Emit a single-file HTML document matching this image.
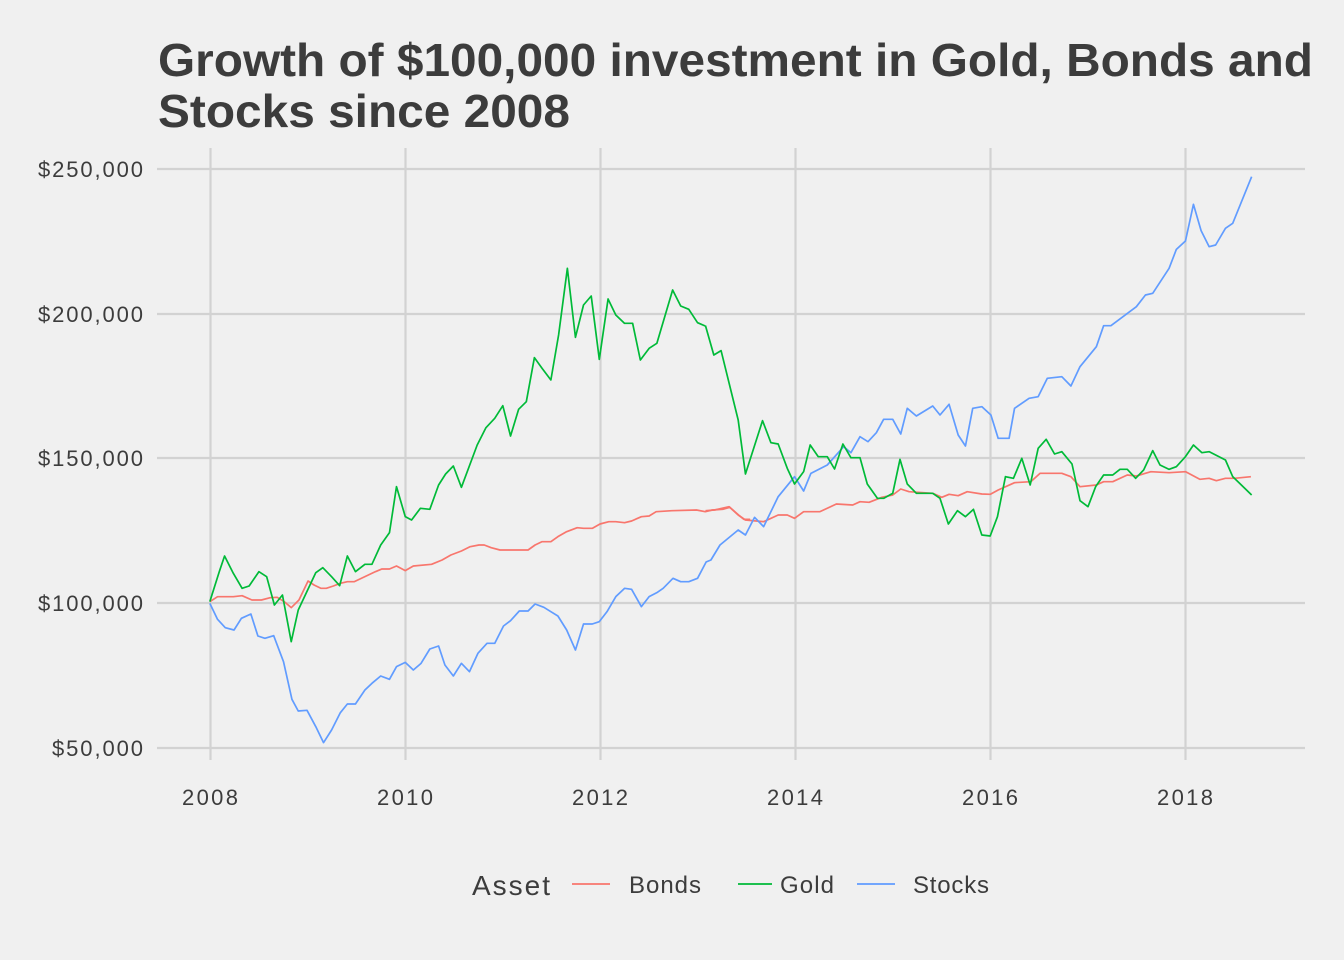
<!DOCTYPE html>
<html><head><meta charset="utf-8"><style>
html,body{margin:0;padding:0;background:#F0F0F0;}
svg{display:block;font-family:"Liberation Sans",sans-serif;}
</style></head><body>
<svg width="1344" height="960" viewBox="0 0 1344 960" xmlns="http://www.w3.org/2000/svg">
<rect width="1344" height="960" fill="#F0F0F0"/>
<text x="158" y="76" font-size="46" font-weight="bold" fill="#3C3C3C" textLength="1155" lengthAdjust="spacingAndGlyphs">Growth of $100,000 investment in Gold, Bonds and</text>
<text x="158" y="127" font-size="46" font-weight="bold" fill="#3C3C3C" textLength="412" lengthAdjust="spacingAndGlyphs">Stocks since 2008</text>
<g stroke="#D2D2D2" stroke-width="2.2">
<line x1="157" x2="1305" y1="169" y2="169"/><line x1="157" x2="1305" y1="314" y2="314"/>
<line x1="157" x2="1305" y1="458" y2="458"/><line x1="157" x2="1305" y1="603" y2="603"/>
<line x1="157" x2="1305" y1="748" y2="748"/>
<line x1="210.5" x2="210.5" y1="148" y2="760"/><line x1="405.5" x2="405.5" y1="148" y2="760"/>
<line x1="600.5" x2="600.5" y1="148" y2="760"/><line x1="795.5" x2="795.5" y1="148" y2="760"/>
<line x1="990.5" x2="990.5" y1="148" y2="760"/><line x1="1185.5" x2="1185.5" y1="148" y2="760"/>
</g>
<g font-size="22" fill="#3C3C3C" lengthAdjust="spacingAndGlyphs">
<text x="38" y="177" textLength="105">$250,000</text><text x="38" y="322" textLength="105">$200,000</text>
<text x="38" y="466" textLength="105">$150,000</text><text x="38" y="611" textLength="105">$100,000</text>
<text x="52" y="756" textLength="91">$50,000</text>
</g>
<g font-size="22" fill="#3C3C3C">
<text x="182" y="805" textLength="56">2008</text><text x="377" y="805" textLength="56">2010</text><text x="572" y="805" textLength="56">2012</text>
<text x="767" y="805" textLength="56">2014</text><text x="962" y="805" textLength="56">2016</text><text x="1157" y="805" textLength="56">2018</text>
</g>
<g fill="none" stroke-width="1.7" stroke-linejoin="round">
<g transform="translate(200,250) scale(0.350877,0.333333)">
<polyline vector-effect="non-scaling-stroke" stroke="#F8766D" points="28,1055 50,1040 95,1040 120,1037 148,1050 175,1050 200,1043 220,1042 240,1055 260,1073 282,1050 308,993 325,1005 345,1015 360,1015 380,1008 400,1000 420,995 440,995 470,980 500,965 518,957 540,957 560,948 585,962 608,948 660,943 690,930 715,915 745,903 770,890 795,885 810,885 830,893 855,900 935,900 955,885 975,875 1000,875 1020,860 1045,845 1075,833 1093,835 1118,835 1140,822 1165,815 1185,815 1210,818 1230,813 1258,800 1280,798 1300,785 1345,782 1415,780 1440,785 1460,780 1490,778 1510,772 1535,795 1550,808 1568,808"/>
<polyline vector-effect="non-scaling-stroke" stroke="#619CFF" points="28,1060 50,1108 72,1133 97,1140 118,1105 145,1092 165,1158 185,1165 210,1157 238,1235 262,1348 280,1383 305,1381 330,1430 352,1478 375,1440 400,1388 420,1362 443,1362 470,1320 490,1300 515,1278 540,1288 560,1250 585,1237 608,1260 630,1240 655,1197 680,1188 698,1245 722,1278 745,1240 768,1265 792,1210 818,1180 840,1180 865,1128 885,1112 910,1083 935,1083 955,1062 980,1072 1000,1085 1020,1098 1045,1140 1070,1200 1093,1122 1118,1122 1138,1115 1160,1085 1185,1040 1210,1015 1230,1018 1258,1070 1280,1040 1302,1028 1320,1015 1348,985 1370,995 1393,995 1418,985 1443,935"/>
<polyline vector-effect="non-scaling-stroke" stroke="#00BA38" points="28,1055 55,965 70,918 95,970 120,1015 140,1008 168,965 190,980 212,1065 235,1035 260,1175 280,1080 330,968 350,953 375,980 398,1007 420,918 443,965 470,943 490,943 515,885 540,848 560,710 585,800 603,810 628,775 655,778 680,705 700,672 722,648 745,712 790,585 815,533 840,505 863,467 885,558 908,478 930,455 953,323 975,355 1000,390 1022,255 1047,55 1070,262 1093,165 1115,138 1138,328 1163,147 1185,195 1210,220 1233,220 1255,330 1280,295 1302,280 1347,120 1370,168 1393,178 1418,218 1440,228"/>
</g>
<g transform="translate(700,160) scale(0.363636,0.333333)">
<polyline vector-effect="non-scaling-stroke" stroke="#F8766D" points="15,1052 40,1050 80,1040 105,1065 125,1080 175,1085 215,1065 240,1065 260,1075 285,1055 330,1055 375,1032 420,1035 440,1025 465,1027 500,1012 530,1005 552,987 575,995 640,1000 665,1012 685,1003 710,1007 735,995 775,1002 798,1003 820,990 865,968 910,965 935,940 995,940 1020,950 1045,980 1090,975 1110,965 1135,965 1175,945 1200,948 1240,935 1290,938 1335,935 1375,958 1400,955 1420,962 1445,955 1470,955 1515,950"/>
<polyline vector-effect="non-scaling-stroke" stroke="#619CFF" points="16.5,1206 30,1200 55,1155 105,1110 125,1125 150,1072 175,1100 215,1010 260,950 285,993 305,940 350,915 395,860 415,878 440,830 462,845 485,818 505,778 530,778 552,822 570,745 595,768 640,738 660,765 685,733 710,825 730,858 750,745 775,740 800,765 820,835 850,835 865,745 905,715 930,710 955,655 995,650 1020,678 1045,620 1090,560 1110,497 1130,497 1200,440 1225,405 1245,400 1290,325 1310,268 1335,243 1357,133 1378,212 1400,260 1418,255 1445,205 1465,190 1517,50"/>
<polyline vector-effect="non-scaling-stroke" stroke="#00BA38" points="15,497 38,585 58,572 105,780 125,942 172,782 195,848 215,852 240,925 260,972 285,935 303,855 325,890 350,890 370,927 393,852 415,893 440,893 460,972 488,1015 505,1015 530,1000 550,898 570,972 595,1000 640,1000 660,1015 683,1092 708,1052 730,1070 752,1048 775,1125 798,1128 818,1070 840,950 862,955 885,895 908,975 930,865 952,838 975,882 995,875 1023,912 1045,1022 1067,1040 1088,980 1110,945 1135,945 1155,928 1175,928 1198,955 1220,930 1245,872 1265,915 1290,928 1310,920 1335,890 1357,855 1380,878 1400,875 1445,900 1465,950 1517,1005"/>
</g>
</g>
<text x="472" y="895" font-size="28" fill="#3C3C3C" textLength="78">Asset</text>
<g stroke-width="1.8">
<line x1="572" x2="610" y1="884" y2="884" stroke="#F8766D"/>
<line x1="738" x2="772" y1="884" y2="884" stroke="#00BA38"/>
<line x1="857" x2="895" y1="884" y2="884" stroke="#619CFF"/>
</g>
<g font-size="24" fill="#3C3C3C">
<text x="629" y="893" textLength="72">Bonds</text><text x="780" y="893" textLength="54">Gold</text><text x="913" y="893" textLength="76">Stocks</text>
</g>
</svg>
</body></html>
